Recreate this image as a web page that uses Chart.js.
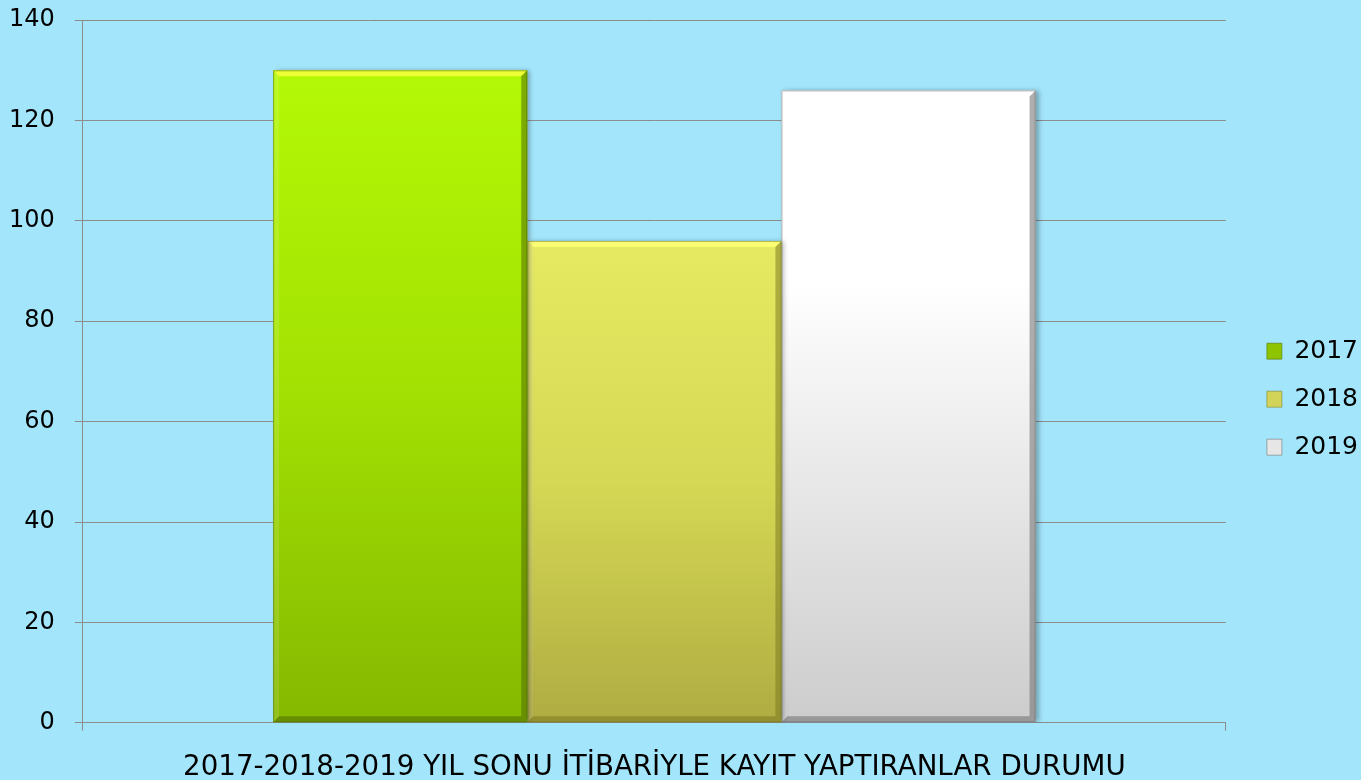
<!DOCTYPE html>
<html>
<head>
<meta charset="utf-8">
<script src="https://cdn.jsdelivr.net/npm/chart.js@4"></script>
<style>
    html, body { margin: 0; padding: 0; background: #a3e6fc; }
    #wrap { width: 1361px; height: 780px; }
</style>
</head>
<body>
<div id="wrap"><canvas id="firstChart"></canvas></div>
<script>
// data
const categories = [""];
const seriesNames = ["2017", "2018", "2019"];
const values2017 = [130];
const values2018 = [96];
const values2019 = [126];
const yTicks = { min: 0, max: 140, step: 20 };
const axisTitle = "2017-2018-2019 YIL SONU İTİBARİYLE KAYIT YAPTIRANLAR DURUMU";

// gradient stops per series: [top, middle, bottom] + bevel colours
const looks = {
    "2017": { stops: ["#b4f906", "#a2e003", "#84b800"], light: "rgba(245,255,60,0.9)", dark: "rgba(80,110,0,0.55)", legend: "#8fc400" },
    "2018": { stops: ["#e5ea62", "#d5d854", "#afac42"], light: "rgba(255,255,120,0.9)", dark: "rgba(120,115,30,0.5)", legend: "#d2d45a" },
    "2019": { stops: ["#ffffff", "#ffffff", "#cccccc"], light: "rgba(255,255,255,0.9)", dark: "rgba(110,110,110,0.55)", legend: "#e6e6e6" },
};

function barFill(name) {
    return (ctx) => {
        const chart = ctx.chart;
        if (!chart.chartArea || ctx.type !== "data") return looks[name].stops[1];
        const y = chart.scales.y;
        const top = y.getPixelForValue(ctx.raw);
        const bottom = y.getPixelForValue(0);
        const g = chart.ctx.createLinearGradient(0, top, 0, bottom);
        g.addColorStop(0, looks[name].stops[0]);
        g.addColorStop(name === "2019" ? 0.3 : 0.5, looks[name].stops[1]);
        g.addColorStop(1, looks[name].stops[2]);
        return g;
    };
}

const bgPlugin = {
    id: "bg",
    beforeDraw(chart) {
        const c = chart.ctx;
        c.save();
        c.fillStyle = "#a3e6fc";
        c.fillRect(0, 0, chart.width, chart.height);
        c.restore();
    },
};

// push the legend a bit further right than Chart.js puts it
const legendShift = 18;
const legendNudgePlugin = {
    id: "legendNudge",
    afterLayout(chart) {
        if (!chart.legend) return;
        chart.legend.left += legendShift;
        chart.legend.right += legendShift;
    },
};

// soft shadow + bevelled edges on every bar
const bevelPlugin = {
    id: "bevel",
    beforeDatasetDraw(chart) {
        const c = chart.ctx;
        c.save();
        c.shadowColor = "rgba(0,0,0,0.3)";
        c.shadowBlur = 5;
        c.shadowOffsetX = 3;
        c.shadowOffsetY = 0;
    },
    afterDatasetDraw(chart, args) {
        const c = chart.ctx;
        c.restore();
        const name = chart.data.datasets[args.index].label;
        const look = looks[name];
        const b = 6;
        args.meta.data.forEach((bar) => {
            const l = bar.x - bar.width / 2;
            const r = bar.x + bar.width / 2;
            const t = bar.y;
            const bot = bar.base;
            const poly = (pts, color) => {
                c.beginPath();
                c.moveTo(pts[0][0], pts[0][1]);
                pts.slice(1).forEach((p) => c.lineTo(p[0], p[1]));
                c.closePath();
                c.fillStyle = color;
                c.fill();
            };
            c.save();
            poly([[l, t], [r, t], [r - b, t + b], [l + b, t + b]], look.light);
            poly([[l, t], [l + b, t + b], [l + b, bot - b], [l, bot]], "rgba(255,255,255,0.12)");
            poly([[r, t], [r, bot], [r - b, bot - b], [r - b, t + b]], look.dark);
            poly([[l, bot], [r, bot], [r - b, bot - b], [l + b, bot - b]], look.dark);
            c.strokeStyle = look.dark;
            c.lineWidth = 1;
            c.strokeRect(l + 0.5, t + 0.5, bar.width - 1, bot - t - 1);
            c.restore();
        });
    },
};

const seriesValues = [values2017, values2018, values2019];
const datasets = seriesNames.map((name, i) => ({
    label: name,
    data: seriesValues[i],
    backgroundColor: barFill(name),
    borderWidth: 0,
    categoryPercentage: 0.667,
    barPercentage: 1,
}));

const gridGray = "#8d8d8d";
const fontFamily = "'DejaVu Sans', Verdana, sans-serif";

new Chart(document.getElementById("firstChart"), {
    type: "bar",
    data: { labels: categories, datasets: datasets },
    plugins: [bgPlugin, legendNudgePlugin, bevelPlugin],
    options: {
        responsive: true,
        maintainAspectRatio: false,
        animation: false,
        layout: { padding: { left: -11, top: 0, right: 11, bottom: 0 } },
        plugins: {
            tooltip: { enabled: false },
            legend: {
                position: "right",
                title: { display: true, text: " ", font: { size: 12 }, padding: 2 },
                labels: {
                    color: "#000",
                    font: { family: fontFamily, size: 25 },
                    boxWidth: 15,
                    boxHeight: 16,
                    padding: 23,
                    generateLabels(chart) {
                        return chart.data.datasets.map((ds, i) => ({
                            text: ds.label,
                            fillStyle: looks[ds.label].legend,
                            strokeStyle: looks[ds.label].dark,
                            fontColor: "#000",
                            lineWidth: 1,
                            datasetIndex: i,
                        }));
                    },
                },
            },
        },
        scales: {
            x: {
                grid: { drawOnChartArea: false, drawTicks: true, tickLength: 8, color: gridGray },
                border: { color: gridGray },
                ticks: { display: false },
                title: {
                    display: true,
                    text: axisTitle,
                    color: "#000",
                    font: { family: fontFamily, size: 27.7 },
                    padding: { top: 20, bottom: -4 },
                },
            },
            y: {
                min: yTicks.min,
                max: yTicks.max,
                ticks: {
                    stepSize: yTicks.step,
                    color: "#000",
                    font: { family: fontFamily, size: 24, lineHeight: 0.01 },
                    padding: 20,
                },
                grid: { color: gridGray, tickLength: 8 },
                border: { color: gridGray },
            },
        },
    },
});
</script>
</body>
</html>
